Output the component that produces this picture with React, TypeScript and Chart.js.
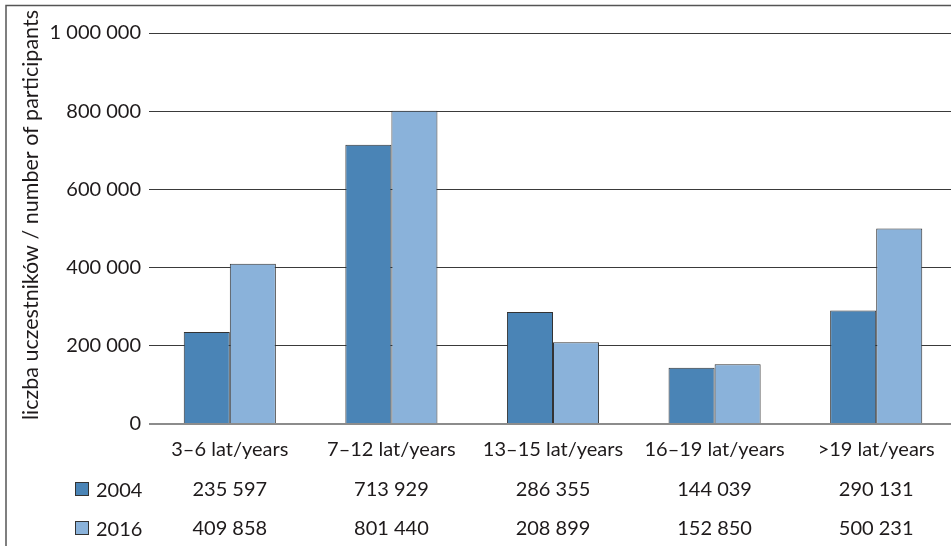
import React, { useEffect, useRef } from "react";
import { Chart, registerables } from "chart.js";

Chart.register(...registerables);

const categories = ["3–6 lat/years", "7–12 lat/years", "13–15 lat/years", "16–19 lat/years", ">19 lat/years"];
const seriesLabels = ["2004", "2016"];
const values2004 = [235597, 713929, 286355, 144039, 290131];
const values2016 = [409858, 801440, 208899, 152850, 500231];
const yTitle = "liczba uczestników / number of participants";
const colors = ["#4a84b6", "#8ab2da"];

const FONT = "Lato, 'Open Sans', sans-serif";
const TEXT = "#1e1a1b";

const fmt = (v: number) => String(v).replace(/\B(?=(\d{3})+(?!\d))/g, " ");

export default function App() {
  const ref = useRef<HTMLCanvasElement | null>(null);

  useEffect(() => {
    if (!ref.current) return;
    const extras = {
      id: "extras",
      afterDraw(chart: any) {
        const ctx = chart.ctx;
        const xs = chart.scales.x;
        ctx.save();
        // frame
        ctx.strokeStyle = "#555";
        ctx.lineWidth = 1.5;
        ctx.beginPath();
        ctx.moveTo(6, 546);
        ctx.lineTo(6, 5.5);
        ctx.lineTo(960, 5.5);
        ctx.stroke();
        // y title
        ctx.fillStyle = TEXT;
        ctx.font = `21.5px ${FONT}`;
        ctx.save();
        ctx.translate(31, 215);
        ctx.rotate(-Math.PI / 2);
        ctx.textAlign = "center";
        ctx.textBaseline = "middle";
        ctx.fillText(yTitle, 0, 0);
        ctx.restore();
        // data table
        const rows = [values2004, values2016];
        const rowY = [490, 529];
        ctx.font = `20px ${FONT}`;
        rows.forEach((vals, r) => {
          ctx.textAlign = "center";
          ctx.textBaseline = "middle";
          vals.forEach((v, i) => {
            ctx.fillText(fmt(v), xs.getPixelForValue(i), rowY[r]);
          });
          ctx.fillStyle = colors[r];
          ctx.fillRect(75.5, rowY[r] - 7.5, 13, 13);
          ctx.strokeStyle = "#333";
          ctx.lineWidth = 1;
          ctx.strokeRect(75.5, rowY[r] - 7.5, 13, 13);
          ctx.fillStyle = TEXT;
          ctx.textAlign = "left";
          ctx.fillText(seriesLabels[r], 96, rowY[r] + 1);
        });
        ctx.restore();
      },
    };

    const chart = new Chart(ref.current, {
      type: "bar",
      data: {
        labels: categories,
        datasets: [
          { label: seriesLabels[0], data: values2004, backgroundColor: colors[0], borderColor: "#333", borderWidth: 1 },
          { label: seriesLabels[1], data: values2016, backgroundColor: colors[1], borderColor: "#333", borderWidth: 1 },
        ],
      },
      options: {
        responsive: false,
        animation: false,
        devicePixelRatio: 1,
        layout: { padding: { top: 33, left: 0, right: 0, bottom: 0 } },
        plugins: { legend: { display: false }, tooltip: { enabled: false }, title: { display: false } },
        datasets: { bar: { categoryPercentage: 0.57, barPercentage: 1 } },
        scales: {
          x: {
            grid: { display: false },
            border: { display: false },
            ticks: { color: TEXT, font: { family: FONT, size: 20 }, padding: 6, maxRotation: 0, autoSkip: false },
            afterFit: (s: any) => { s.height = 122; },
          },
          y: {
            min: 0,
            max: 1000000,
            border: { display: false },
            grid: {
              drawTicks: false,
              color: (c: any) => (c.tick && c.tick.value === 0 ? "#8c8c8c" : "#3a3a3a"),
              lineWidth: (c: any) => (c.tick && c.tick.value === 0 ? 2 : 1),
            },
            ticks: {
              stepSize: 200000,
              color: TEXT,
              font: { family: FONT, size: 20 },
              padding: 8,
              callback: (v: any) => fmt(Number(v)),
            },
            afterFit: (s: any) => { s.width = 149; },
          },
        },
      },
      plugins: [extras],
    });
    return () => chart.destroy();
  }, []);

  return (
    <div style={{ position: "absolute", left: 0, top: 0, width: 951, height: 546, overflow: "hidden", background: "#fff" }}>
      <canvas ref={ref} width={957} height={546} style={{ width: 957, height: 546, display: "block" }} />
    </div>
  );
}
